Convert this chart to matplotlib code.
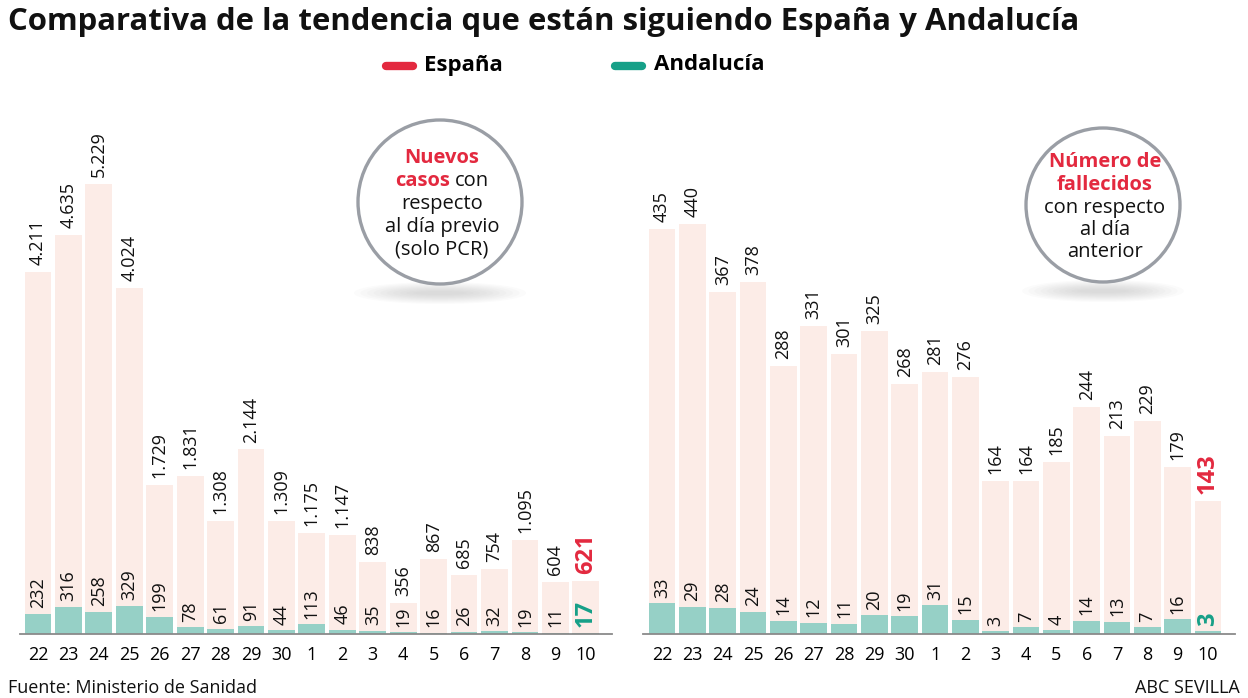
import matplotlib
matplotlib.use("Agg")
import matplotlib.pyplot as plt
from matplotlib.patches import Circle, Ellipse
from matplotlib.lines import Line2D

plt.rcParams['font.family'] = ['Open Sans', 'DejaVu Sans']

days = ["22", "23", "24", "25", "26", "27", "28", "29", "30", "1", "2", "3", "4", "5", "6", "7", "8", "9", "10"]
casos_espana = [4211, 4635, 5229, 4024, 1729, 1831, 1308, 2144, 1309, 1175, 1147, 838, 356, 867, 685, 754, 1095, 604, 621]
casos_andalucia = [232, 316, 258, 329, 199, 78, 61, 91, 44, 113, 46, 35, 19, 16, 26, 32, 19, 11, 17]
muertes_espana = [435, 440, 367, 378, 288, 331, 301, 325, 268, 281, 276, 164, 164, 185, 244, 213, 229, 179, 143]
muertes_andalucia = [33, 29, 28, 24, 14, 12, 11, 20, 19, 31, 15, 3, 7, 4, 14, 13, 7, 16, 3]

PINK = "#fcece7"
TEAL_BAR = "#96d0c6"
RED = "#e3293f"
TEAL = "#16a088"
GRAY = "#9a9ea5"

W, H = 1248, 698
fig = plt.figure(figsize=(W / 100, H / 100), dpi=100)


def fmt(v):
    return f"{v:,}".replace(",", ".")


def panel(rect, xlim, ytop, esp, anda):
    ax = fig.add_axes(rect)
    x = list(range(len(days)))
    ax.bar(x, esp, width=0.88, color=PINK, zorder=1)
    ax.bar(x, anda, width=0.88, color=TEAL_BAR, zorder=2)
    ax.set_xlim(*xlim)
    ax.set_ylim(0, ytop)
    for s in ["top", "right", "left"]:
        ax.spines[s].set_visible(False)
    ax.spines["bottom"].set_color("#8a8a8a")
    ax.spines["bottom"].set_linewidth(1.3)
    ax.set_yticks([])
    ax.set_xticks(x)
    ax.set_xticklabels(days, fontsize=13)
    ax.tick_params(axis="x", length=0, pad=9)
    n = len(days)
    for i in range(n):
        last = i == n - 1
        ax.annotate(fmt(esp[i]), (i, esp[i]), xytext=(0, 5), textcoords="offset points",
                    rotation=90, ha="center", va="bottom",
                    fontsize=17 if last else 13,
                    fontweight="bold" if last else "normal",
                    color=RED if last else "#111111", zorder=3)
        ax.annotate(fmt(anda[i]), (i, anda[i]), xytext=(0, 4), textcoords="offset points",
                    rotation=90, ha="center", va="bottom",
                    fontsize=17 if last else 13,
                    fontweight="bold" if last else "normal",
                    color=TEAL if last else "#111111", zorder=3)
    return ax


axL = panel([20 / W, 64 / H, 592 / W, 534 / H], (-0.59, 18.86), 5229 * 534 / 450,
            casos_espana, casos_andalucia)
axR = panel([643 / W, 64 / H, 592 / W, 534 / H], (-0.63, 18.89), 440 * 534 / 410,
            muertes_espana, muertes_andalucia)

# overlay in pixel coordinates
ov = fig.add_axes([0, 0, 1, 1], facecolor="none")
ov.set_xlim(0, W)
ov.set_ylim(H, 0)
ov.axis("off")
ov.set_zorder(10)

# title
ov.text(8, 22, "Comparativa de la tendencia que están siguiendo España y Andalucía",
        fontsize=22.4, fontweight="bold", ha="left", va="center", color="#111111")

# legend
ov.add_line(Line2D([386, 413], [66, 66], color=RED, lw=6, solid_capstyle="round"))
ov.text(424, 65, "España", fontsize=16, fontweight="bold", ha="left", va="center")
ov.add_line(Line2D([615, 642], [66, 66], color=TEAL, lw=6, solid_capstyle="round"))
ov.text(654, 65, "Andalucía", fontsize=16, fontweight="bold", ha="left", va="center")


def badge(cx, cy, r):
    for k in range(10):
        ov.add_patch(Ellipse((cx, cy + r + 9), 2 * r * (1.05 - k * 0.08), 22 - k * 2,
                             facecolor="#8a8a8a", edgecolor="none", alpha=0.03))
    ov.add_patch(Circle((cx, cy), r, facecolor="white", edgecolor=GRAY, lw=2.4))


badge(440, 202, 82)
badge(1103, 205, 77)

fs = 14.5
ov.text(442, 158, "Nuevos", fontsize=fs, fontweight="bold", color=RED, ha="center", va="center")
ov.text(450, 181, "casos", fontsize=fs, fontweight="bold", color=RED, ha="right", va="center")
ov.text(455, 181, "con", fontsize=fs, color="#111111", ha="left", va="center")
ov.text(442, 204, "respecto", fontsize=fs, color="#111111", ha="center", va="center")
ov.text(442, 227, "al día previo", fontsize=fs, color="#111111", ha="center", va="center")
ov.text(442, 250, "(solo PCR)", fontsize=fs, color="#111111", ha="center", va="center")

ov.text(1105, 162, "Número de", fontsize=14.5, fontweight="bold", color=RED, ha="center", va="center")
ov.text(1105, 185, "fallecidos", fontsize=14.5, fontweight="bold", color=RED, ha="center", va="center")
ov.text(1105, 208, "con respecto", fontsize=fs, color="#111111", ha="center", va="center")
ov.text(1105, 230, "al día", fontsize=fs, color="#111111", ha="center", va="center")
ov.text(1105, 252, "anterior", fontsize=fs, color="#111111", ha="center", va="center")

# footer
ov.text(8, 688, "Fuente: Ministerio de Sanidad", fontsize=13, ha="left", va="center", color="#111111")
ov.text(1240, 688, "ABC SEVILLA", fontsize=13, ha="right", va="center", color="#111111")

fig.savefig("out.png", dpi=100)
